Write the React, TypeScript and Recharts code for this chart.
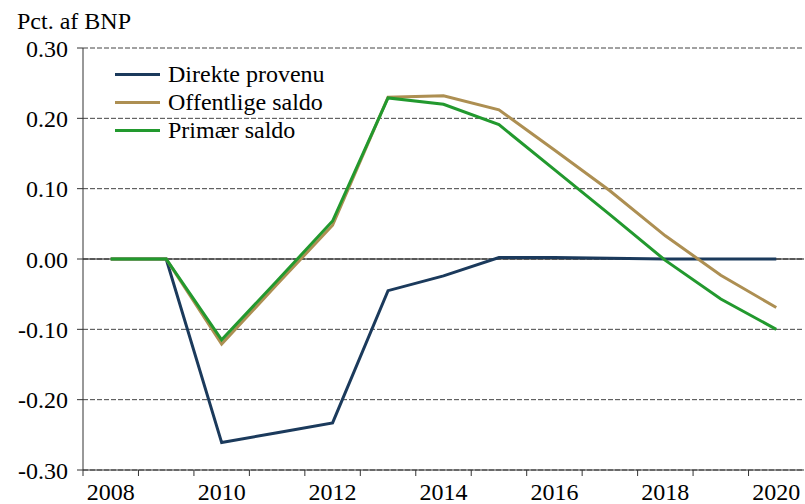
import React from "react";
import { LineChart, Line, XAxis, YAxis, CartesianGrid, ReferenceLine, Legend } from "recharts";

const years = [2008, 2009, 2010, 2011, 2012, 2013, 2014, 2015, 2016, 2017, 2018, 2019, 2020];
const direkteProvenu = [0, 0, -0.261, -0.247, -0.233, -0.045, -0.024, 0.002, 0.002, 0.001, 0.0, 0.0, 0.0];
const offentligeSaldo = [0, 0, -0.121, -0.036, 0.048, 0.23, 0.232, 0.212, 0.155, 0.097, 0.033, -0.023, -0.069];
const primaerSaldo = [0, 0, -0.115, -0.031, 0.054, 0.229, 0.22, 0.191, 0.127, 0.063, -0.002, -0.057, -0.1];
const yTicks = [-0.3, -0.2, -0.1, 0, 0.1, 0.2, 0.3];
const seriesNames = ["Direkte provenu", "Offentlige saldo", "Primær saldo"];
const labelYears = [2008, 2010, 2012, 2014, 2016, 2018, 2020];

const data = years.map((year, i) => ({
  year,
  direkte: direkteProvenu[i],
  offentlige: offentligeSaldo[i],
  primaer: primaerSaldo[i],
}));

const W = 805;
const H = 504;
const LEFT = 83;
const RIGHT = 1;
const PLOT_W = W - LEFT - RIGHT;
const HALF = PLOT_W / years.length / 2;
const boundaries = years.map((y) => y - 0.5);
const FONT = "Liberation Serif";

const XTick = (props: any) => {
  const { x, y, payload } = props;
  const yr = payload.value + 0.5;
  return (
    <g>
      <line x1={x} x2={x} y1={y} y2={y + 6} stroke="#333" strokeWidth={1} />
      {labelYears.includes(yr) ? (
        <text x={x + HALF} y={y + 30} textAnchor="middle" fontSize={24} fontFamily={FONT} fill="#000">
          {yr}
        </text>
      ) : null}
    </g>
  );
};

const LegendContent = (props: any) => {
  const { payload } = props;
  return (
    <div style={{ fontFamily: FONT, fontSize: 24 }}>
      {(payload || []).map((entry: any) => (
        <div key={entry.value} style={{ display: "flex", alignItems: "center", height: 28 }}>
          <div style={{ width: 45, height: 3, background: entry.color, marginRight: 8 }} />
          <span style={{ color: "#000", lineHeight: "28px", fontFamily: FONT }}>{entry.value}</span>
        </div>
      ))}
    </div>
  );
};

export default function App() {
  return (
    <div style={{ position: "absolute", left: 0, top: 0, width: W, height: H, background: "#fff", fontFamily: FONT }}>
      <div
        style={{
          position: "absolute",
          left: 17,
          top: 8,
          fontFamily: FONT,
          fontSize: 24,
          color: "#000",
          whiteSpace: "nowrap",
          zIndex: 2,
        }}
      >
        Pct. af BNP
      </div>
      <LineChart
        width={W}
        height={H}
        data={data}
        margin={{ top: 48, right: RIGHT, bottom: 4, left: 0 }}
        style={{ fontFamily: FONT }}
      >
        <CartesianGrid vertical={false} stroke="#444" strokeDasharray="5 2" />
        <XAxis
          type="number"
          dataKey="year"
          domain={[2007.5, 2020.5]}
          ticks={boundaries}
          interval={0}
          tickSize={0}
          tickMargin={0}
          tickLine={false}
          tick={<XTick />}
          height={30}
          axisLine={{ stroke: "#333" }}
          allowDataOverflow
        />
        <YAxis
          type="number"
          domain={[-0.3, 0.3]}
          ticks={yTicks}
          interval={0}
          width={LEFT}
          tickSize={6}
          tickMargin={9}
          tickFormatter={(v: number) => v.toFixed(2)}
          tick={{ fontSize: 24, fontFamily: FONT, fill: "#000" }}
          tickLine={{ stroke: "#333" }}
          axisLine={{ stroke: "#333" }}
          allowDataOverflow
        />
        <ReferenceLine y={0} stroke="#111" strokeWidth={1} />
        <Legend
          layout="horizontal"
          verticalAlign="middle"
          align="center"
          content={<LegendContent />}
          wrapperStyle={{ left: 115, top: 60, width: 260 }}
        />
        <Line
          name={seriesNames[0]}
          dataKey="direkte"
          stroke="#1B3A5C"
          strokeWidth={3}
          dot={false}
          isAnimationActive={false}
        />
        <Line
          name={seriesNames[1]}
          dataKey="offentlige"
          stroke="#AD8F52"
          strokeWidth={3}
          dot={false}
          isAnimationActive={false}
        />
        <Line
          name={seriesNames[2]}
          dataKey="primaer"
          stroke="#22992E"
          strokeWidth={3}
          dot={false}
          isAnimationActive={false}
        />
      </LineChart>
    </div>
  );
}
